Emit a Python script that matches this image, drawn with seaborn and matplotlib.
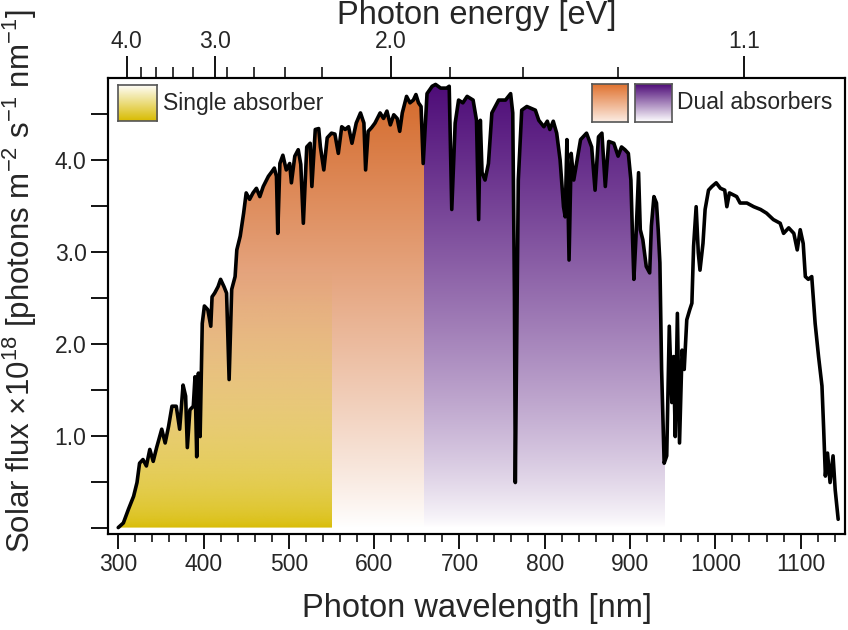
import numpy as np
import matplotlib
matplotlib.use("Agg")
import matplotlib.pyplot as plt
from matplotlib.colors import to_rgb
from matplotlib.ticker import FixedLocator, FixedFormatter
import seaborn as sns

# AM1.5 photon flux (x1e18 photons m^-2 s^-1 nm^-1)
wavelength_nm = [
    300, 306, 312, 318, 322, 325, 329, 333, 337, 341, 345, 351, 355, 359, 363,
    368, 372, 376, 379, 381, 384, 388, 390, 392, 394, 396, 398.5, 401, 405,
    408.5, 410, 413, 417, 420, 424, 427, 430, 433, 437, 439, 443, 447, 450,
    454, 458, 462, 466, 470, 476, 480, 483, 485.5, 487, 489.5, 493, 497, 501,
    503, 507, 511, 514, 517, 521, 525, 527, 531, 535, 537, 541, 545, 550, 554,
    558, 562, 566, 570, 574, 579, 584, 588, 590, 593, 597, 601, 607, 611, 615,
    619, 623, 627, 630, 633, 638, 642, 646, 649, 652, 655, 657.5, 662, 668,
    672, 678, 685, 688, 689.5, 691, 693, 695, 699, 704, 709, 716, 720, 722.5,
    724.5, 726.5, 730, 734, 738, 746, 754, 760, 762.5, 764.5, 765.5, 767, 769,
    773, 779, 789, 793, 799, 803, 806, 810, 814, 818, 822, 824, 826, 828.5,
    831, 834, 838, 842, 849, 855, 859, 863, 867, 871, 875, 881, 886, 890, 894,
    898, 901, 903, 904.5, 907, 910, 912, 915, 919, 923, 925, 928, 931, 933,
    935, 937, 940, 943, 946, 949, 951, 953, 955.5, 958, 961, 963.5, 966.5, 970,
    972.5, 974.5, 977.5, 980, 982, 985.5, 988, 992, 996, 1001, 1006, 1011,
    1013.5, 1016.5, 1025, 1029, 1037, 1045, 1053, 1060, 1068, 1076, 1080, 1086,
    1092, 1096, 1099.5, 1103, 1105.5, 1109, 1113, 1117, 1121, 1125, 1127, 1129,
    1131.5, 1134.5, 1138, 1140.5, 1144,
]
flux = [
    0.00, 0.05, 0.20, 0.34, 0.49, 0.70, 0.74, 0.67, 0.85, 0.72, 0.87, 1.07, 0.92, 1.10, 1.32,
    1.32, 1.07, 1.55, 1.43, 0.87, 1.28, 1.32, 1.64, 0.77, 1.68, 0.99, 2.22, 2.41, 2.37,
    2.19, 2.51, 2.55, 2.62, 2.70, 2.62, 2.55, 1.61, 2.59, 2.73, 3.02, 3.17, 3.42, 3.64,
    3.57, 3.64, 3.69, 3.60, 3.71, 3.82, 3.87, 3.91, 3.82, 3.20, 3.96, 4.05, 3.89, 3.96,
    3.75, 4.04, 4.11, 3.95, 3.31, 4.14, 4.18, 3.71, 4.33, 4.34, 4.14, 3.89, 4.24, 4.29, 4.28,
    4.07, 4.36, 4.33, 4.36, 4.18, 4.40, 4.51, 4.40, 3.89, 4.31, 4.35, 4.40, 4.51, 4.45, 4.53,
    4.38, 4.49, 4.45, 4.31, 4.51, 4.69, 4.62, 4.65, 4.71, 4.62, 4.58, 3.96, 4.72, 4.80,
    4.82, 4.78, 4.78, 4.80, 4.14, 3.46, 3.93, 4.40, 4.65, 4.62, 4.69, 4.65, 4.43, 3.35,
    4.43, 3.86, 3.78, 3.96, 4.51, 4.65, 4.65, 4.72, 4.51, 2.51, 0.49, 1.93, 3.78,
    4.54, 4.58, 4.54, 4.43, 4.36, 4.42, 4.33, 4.42, 4.29, 4.00, 3.49, 3.38, 4.22, 2.91,
    4.07, 3.78, 4.00, 4.22, 4.29, 4.14, 3.67, 4.25, 4.29, 3.71, 4.20, 4.18, 4.04, 4.14, 4.11,
    4.07, 3.78, 3.13, 2.70, 3.17, 3.86, 3.24, 3.13, 2.84, 2.77, 3.28, 3.60, 3.53, 3.24,
    2.88, 1.72, 0.70, 0.78, 2.19, 1.36, 1.86, 0.99, 2.33, 0.92, 1.93, 1.72, 2.26, 2.37,
    2.44, 3.06, 3.49, 2.99, 2.80, 3.09, 3.46, 3.67, 3.71, 3.75, 3.69, 3.67,
    3.49, 3.64, 3.60, 3.53, 3.53, 3.49, 3.46, 3.42, 3.35, 3.31, 3.20, 3.26,
    3.20, 3.02, 3.24, 3.09, 2.73, 2.70, 2.73, 2.22, 1.86, 1.54, 1.07, 0.56,
    0.81, 0.49, 0.78, 0.41, 0.09,
]

# absorber windows (nm)
single_window = (300, 550)
orange_window = (300, 658)
purple_window = (658, 940)
yellow_top = 2.8

# top axis (photon energy) ticks, placed as in the source figure
ev_major = [4.0, 3.0, 2.0, 1.2]
ev_major_labels = ["4.0", "3.0", "2.0", "1.1"]
ev_minor = [3.8, 3.6, 3.4, 3.2, 2.9, 2.7, 2.5, 2.3, 1.8, 1.6, 1.4]

y_ticks = [0, 0.5, 1.0, 1.5, 2.0, 2.5, 3.0, 3.5, 4.0, 4.5]
y_labels = ["", "", "1.0", "", "2.0", "", "3.0", "", "4.0", ""]

YELLOW = "#D8BB00"
ORANGE = "#D4692A"
PURPLE = "#4E0C78"

sns.set_theme(style="ticks")
plt.rcParams["font.family"] = ["Liberation Sans", "DejaVu Sans"]
plt.rcParams["mathtext.fontset"] = "custom"
plt.rcParams["mathtext.rm"] = "Liberation Sans"
plt.rcParams["mathtext.it"] = "Liberation Sans:italic"
plt.rcParams["mathtext.bf"] = "Liberation Sans:bold"


def grad_img(c_bottom, c_top, a_bottom=1.0, a_top=1.0, gamma=1.0):
    t = np.linspace(0, 1, 256)[:, None] ** gamma
    cb = np.array(to_rgb(c_bottom))
    ct = np.array(to_rgb(c_top))
    rgb = cb + (ct - cb) * t
    alpha = a_bottom + (a_top - a_bottom) * t
    return np.concatenate([rgb, alpha], axis=1)[:, None, :]


fig = plt.figure(figsize=(8.48, 6.3), dpi=100)
ax = fig.add_axes([108 / 848, 96 / 630, 737 / 848, 456 / 630])

# area under the curve, used as clip path for the gradients
area = ax.fill_between(wavelength_nm, flux, 0, facecolor="none", edgecolor="none")
clip = area.get_paths()[0]

ymax = max(flux)
for (x0, x1), img, y1 in [
    (orange_window, grad_img("white", ORANGE, gamma=0.9), ymax),
    (purple_window, grad_img("white", PURPLE, gamma=0.8), ymax),
    (single_window, grad_img(YELLOW, YELLOW, 1.0, 0.0, gamma=0.6), yellow_top),
]:
    im = ax.imshow(img, extent=(x0, x1, 0, y1), origin="lower", aspect="auto",
                   interpolation="bilinear", zorder=1)
    im.set_clip_path(clip, ax.transData)

sns.lineplot(x=wavelength_nm, y=flux, color="black", linewidth=2.6, ax=ax,
             sort=False, estimator=None, zorder=3)

ax.set_xlim(288, 1152)
ax.set_ylim(-0.07, 4.89)
ax.set_xticks(range(300, 1101, 100))
ax.set_xticks(range(300, 1150, 20), minor=True)
ax.yaxis.set_major_locator(FixedLocator(y_ticks))
ax.yaxis.set_major_formatter(FixedFormatter(y_labels))
ax.tick_params(axis="x", which="major", length=11, width=1.3, labelsize=16.5, color="black", pad=3)
ax.tick_params(axis="x", which="minor", length=6, width=1.1, color="black")
ax.tick_params(axis="y", which="major", length=12, width=1.3, labelsize=16.5, color="black")
ax.set_xlabel("Photon wavelength [nm]", fontsize=23.5, labelpad=12)
ax.set_ylabel(r"Solar flux ×10$^{18}$ [photons m$^{-2}$ s$^{-1}$ nm$^{-1}$]", fontsize=22.5)
ax.yaxis.set_label_coords(-0.093, 0.555)

ax2 = ax.twiny()
ax2.set_xlim(ax.get_xlim())
ax2.xaxis.set_major_locator(FixedLocator([1240 / e for e in ev_major]))
ax2.xaxis.set_major_formatter(FixedFormatter(ev_major_labels))
ax2.xaxis.set_minor_locator(FixedLocator([1240 / e for e in ev_minor]))
ax2.tick_params(axis="x", which="major", length=16, width=1.3, labelsize=16.5, color="black", pad=2)
ax2.tick_params(axis="x", which="minor", length=8, width=1.1, color="black")
ax2.set_xlabel("Photon energy [eV]", fontsize=23.5, labelpad=4)

for a in (ax, ax2):
    for s in a.spines.values():
        s.set_color("black")
        s.set_linewidth(1.5)

# legend swatches
def swatch(rect, img):
    sax = ax.inset_axes(rect)
    sax.imshow(img, extent=(0, 1, 0, 1), origin="lower", aspect="auto")
    sax.set_xticks([])
    sax.set_yticks([])
    for s in sax.spines.values():
        s.set_color("#555555")
        s.set_linewidth(1.2)


swatch([0.0136, 0.906, 0.053, 0.079], grad_img(YELLOW, "white"))
swatch([0.657, 0.9035, 0.049, 0.083], grad_img("#FCEDE4", "#E0722F"))
swatch([0.715, 0.9035, 0.050, 0.083], grad_img("white", PURPLE))
ax.text(0.074, 0.945, "Single absorber", transform=ax.transAxes, fontsize=16.5,
        ha="left", va="center")
ax.text(0.772, 0.947, "Dual absorbers", transform=ax.transAxes, fontsize=16.5,
        ha="left", va="center")

fig.savefig("out.png", dpi=100)
